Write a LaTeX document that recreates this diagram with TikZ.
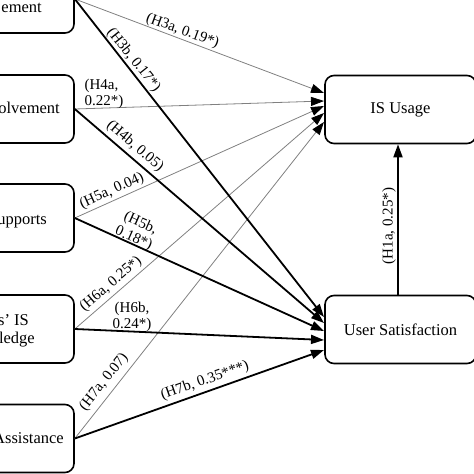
\documentclass[tikz,border=0pt]{standalone}
\usepackage{fontspec}
\setmainfont{Liberation Serif}
\usetikzlibrary{arrows.meta}
\begin{document}
\begin{tikzpicture}[x=1pt,y=-1pt,
  box/.style={draw,line width=1.6pt,rounded corners=9pt,minimum height=68pt,inner sep=0pt},
  lbox/.style={box,minimum width=160pt},
  rbox/.style={box,minimum width=151pt,font=\fontsize{16.5}{19}\selectfont},
  btext/.style={font=\fontsize{16.5}{19}\selectfont,inner sep=0pt},
  lab/.style={font=\fontsize{15}{16.5}\selectfont,inner sep=0pt},
  grayarrow/.style={draw=black!50,line width=0.8pt,-{Triangle[length=13pt,width=9pt,color=black]}},
  blackarrow/.style={draw=black,line width=1.8pt,-{Triangle[length=13pt,width=9pt]}},
]
\clip (0,0) rectangle (474,474);
% left boxes
\node[lbox] (L1) at (-6,-1) {};
\node[lbox] (L2) at (-6,109) {};
\node[lbox] (L3) at (-6,218) {};
\node[lbox] (L4) at (-6,329) {};
\node[lbox] (L5) at (-6,438.5) {};
\node[btext,anchor=base east] (t1) at (42,12) {ement};
\node[btext,anchor=base east] (t2) at (60,113) {olvement};
\node[btext,anchor=base east] (t3) at (47,224) {upports};
\node[btext,anchor=base east] (t4a) at (29,325) {s’ IS};
\node[btext,anchor=base east] (t4b) at (35,343) {ledge};
\node[btext,anchor=base east] (t5) at (64,443) {Assistance};
% right boxes
\node[rbox] (R1) at (400.5,109.5) {IS Usage};
\node[rbox] (R2) at (400.5,329.5) {User Satisfaction};
% targets
\coordinate (a1) at (324,93);
\coordinate (a2) at (324,101);
\coordinate (a3) at (324,106);
\coordinate (a4) at (324,113);
\coordinate (a5) at (324,122);
\coordinate (b1) at (324,317);
\coordinate (b2) at (324,323);
\coordinate (b3) at (324,331);
\coordinate (b4) at (324,340);
\coordinate (b5) at (324,350);
% gray paths to IS Usage
\draw[grayarrow] (L1.east) -- (a1);
\draw[grayarrow] (L2.east) -- (a2);
\draw[grayarrow] (L3.east) -- (a3);
\draw[grayarrow] (L4.east) -- (a4);
\draw[grayarrow] (L5.east) -- (a5);
% black paths to User Satisfaction
\draw[blackarrow] (L1.east) -- (b1);
\draw[blackarrow] (L2.east) -- (b2);
\draw[blackarrow] (L3.east) -- (b3);
\draw[blackarrow] (L4.east) -- (b4);
\draw[blackarrow] (L5.east) -- (b5);
\draw[blackarrow] ([xshift=-2.5pt]R2.north) -- ([xshift=-2.5pt]R1.south);
% labels
\node[lab,rotate=-20.1] (h3a) at (182.5,31) {(H3a, 0.19*)};
\node[lab,rotate=-51.4] (h3b) at (133.5,60) {(H3b, 0.17*)};
\node[lab,align=left] (h4a) at (104,94) {(H4a,\\0.22*)};
\node[lab,rotate=-40.3] (h4b) at (135,146.5) {(H4b, 0.05)};
\node[lab,rotate=24.4] (h5a) at (112,191) {(H5a, 0.04)};
\node[lab,rotate=-23.9,align=center] (h5b) at (137,231) {(H5b,\\0.18*)};
\node[lab,rotate=40.7] (h6a) at (111,284) {(H6a, 0.25*)};
\node[lab,align=center] (h6b) at (132,317) {(H6b,\\0.24*)};
\node[lab,rotate=51.5] (h7a) at (104,382) {(H7a, 0.07)};
\node[lab,rotate=19.3] (h7b) at (205,381) {(H7b, 0.35***)};
\node[lab,rotate=90] (h1a) at (389,226) {(H1a, 0.25*)};
\end{tikzpicture}
\end{document}
